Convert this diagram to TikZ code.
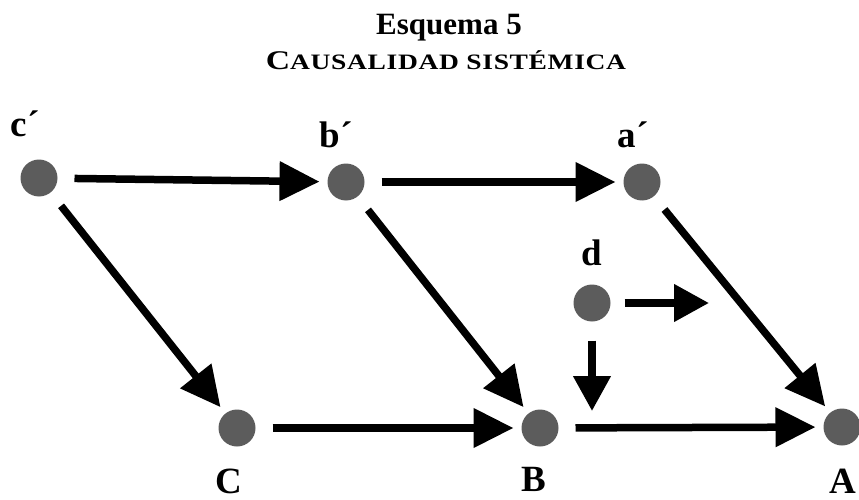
\documentclass[tikz,border=0pt]{standalone}
\usepackage{fontspec}
\setmainfont{Liberation Serif}
\newfontfamily\headfont[FakeStretch=1.25,LetterSpace=3]{Liberation Serif}
\usetikzlibrary{arrows.meta}
\definecolor{dotgray}{gray}{0.36}
\begin{document}
\begin{tikzpicture}[x=1pt,y=-1pt,
  dot/.style={circle,fill=dotgray,minimum size=37pt,inner sep=0pt,outer sep=0pt},
  lbl/.style={anchor=base,font=\fontsize{37}{37}\selectfont\bfseries,inner sep=0pt},
  arr/.style={line width=7.5pt,-{Triangle[length=40pt,width=38pt]},shorten <=17pt,shorten >=8pt},
  sarr/.style={line width=7.5pt,-{Triangle[length=35pt,width=36pt]}}]
\useasboundingbox (0,0) rectangle (859,500);
% title
\node[anchor=base,font=\fontsize{31}{31}\selectfont\bfseries,inner sep=0pt] (t1) at (449,35) {Esquema 5};
\node[anchor=base,font=\headfont\bfseries,inner sep=0pt] (t2) at (446,70) {{\fontsize{27}{27}\selectfont C}{\fontsize{22}{22}\selectfont AUSALIDAD SISTÉMICA}};
% dots
\node[dot] (cp) at (39,178) {};
\node[dot] (bp) at (346,182) {};
\node[dot] (ap) at (642,182) {};
\node[dot] (d) at (592,303) {};
\node[dot] (C) at (237,428) {};
\node[dot] (B) at (540,428) {};
\node[dot] (A) at (842,427) {};
% labels
\node[lbl] (lcp) at (25,137) {c´};
\node[lbl] (lbp) at (336,147) {b´};
\node[lbl] (lap) at (633,147) {a´};
\node[lbl] (ld) at (592,265) {d};
\node[lbl] (lC) at (229,493) {C};
\node[lbl] (lB) at (534,491) {B};
\node[lbl] (lA) at (843,493) {A};
% arrows
\draw[arr] (cp) -- (bp);
\draw[arr] (bp) -- (ap);
\draw[arr] (cp) -- (C);
\draw[arr] (bp) -- (B);
\draw[arr] (ap) -- (A);
\draw[arr] (C) -- (B);
\draw[arr] (B) -- (A);
\coordinate (dr) at (709,303);
\coordinate (dd) at (592,411);
\draw[sarr,shorten <=14pt] (d) -- (dr);
\draw[sarr,shorten <=19pt] (d) -- (dd);
\end{tikzpicture}
\end{document}
